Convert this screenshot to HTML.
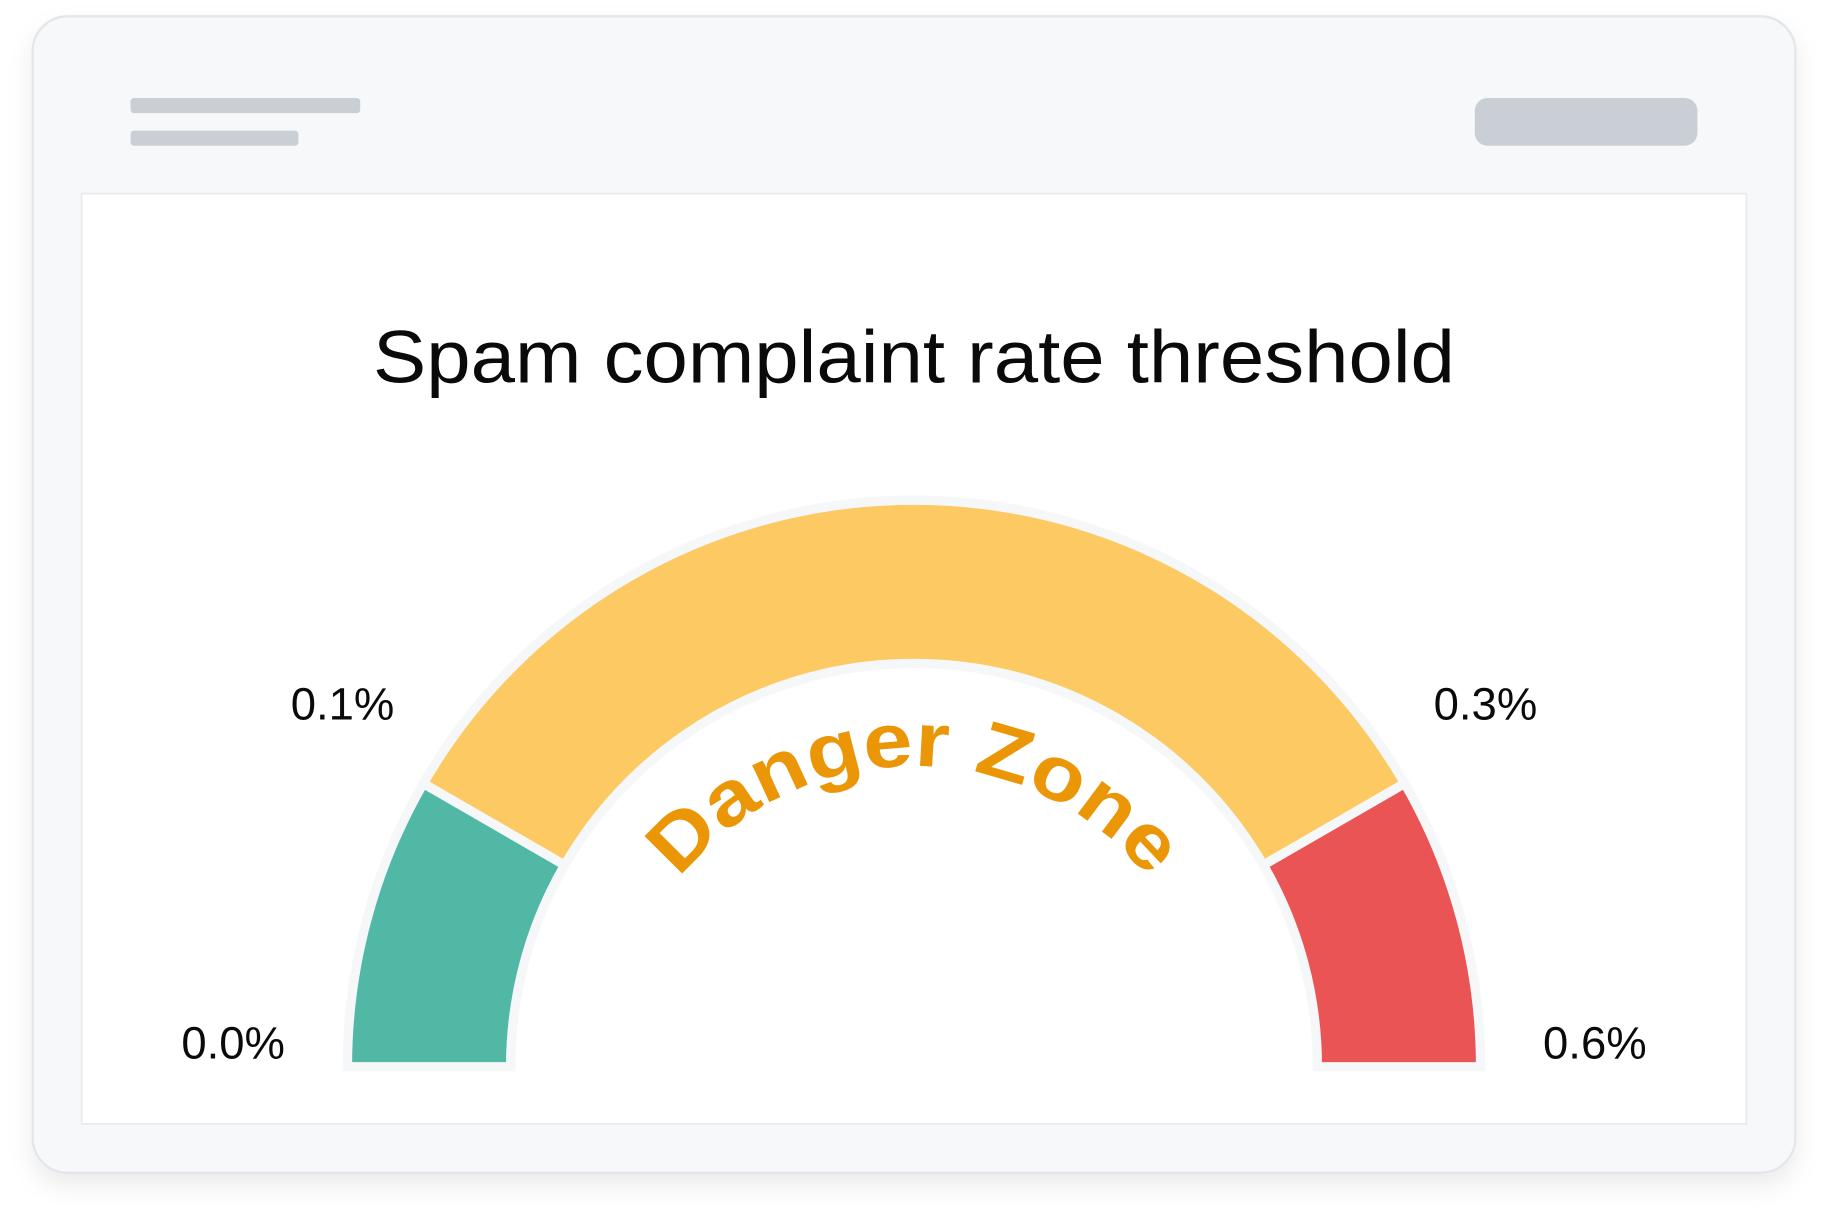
<!DOCTYPE html>
<html><head><meta charset="utf-8">
<style>
html,body{margin:0;padding:0;background:#fff;}
svg{display:block;}
</style></head>
<body>
<svg width="1828" height="1223" viewBox="0 0 1568 1049" xmlns="http://www.w3.org/2000/svg" font-family="Liberation Sans, sans-serif">
  <defs>
    <filter id="sh" x="-10%" y="-10%" width="120%" height="125%">
      <feDropShadow dx="0" dy="10" stdDeviation="10" flood-color="#000" flood-opacity="0.08"/>
    </filter>
  </defs>
  <rect x="28" y="14" width="1512" height="992" rx="30" fill="#F7F8FA" stroke="#E3E6EA" stroke-width="2" filter="url(#sh)"/>
  <rect x="112" y="84" width="197" height="13" rx="3" fill="#C9CFD5"/>
  <rect x="112" y="112" width="144" height="13" rx="3" fill="#C9CFD5"/>
  <rect x="1265" y="84" width="191" height="41" rx="11" fill="#C9CFD5"/>
  <rect x="70" y="166" width="1428" height="798" fill="#FFFFFF" stroke="#E8EBEE" stroke-width="1.5"/>
  <text x="784" y="328" text-anchor="middle" font-size="64" fill="#0A0A0A" textLength="928" lengthAdjust="spacingAndGlyphs" style="font-weight:500">Spam complaint rate threshold</text>
  <g id="gauge"></g>
  <path id="dzPath" d="M 526 915 A 258 258 0 0 1 1042 915" fill="none"/>
  <text font-size="66" font-weight="bold" fill="#EA9606"><textPath href="#dzPath" startOffset="50%" text-anchor="middle" textLength="462" lengthAdjust="spacingAndGlyphs">Danger Zone</textPath></text>
</svg>
<script>
const thresholds = [0.0, 0.1, 0.3, 0.6];
const tickLabels = ["0.0%", "0.1%", "0.3%", "0.6%"];
const segmentColors = ["#52B8A6", "#FDC962", "#EA5455"];
const segmentNames = ["safe-segment", "danger-zone-segment", "critical-segment"];

const cx = 784, cy = 915, rOuter = 486, rInner = 346;
const angleRange = [180, 150, 30, 0];
function angleScale(v) {
  for (let i = 0; i < thresholds.length - 1; i++) {
    const a = thresholds[i], b = thresholds[i + 1];
    if (v <= b || i === thresholds.length - 2) {
      const t = (v - a) / (b - a);
      return angleRange[i] + t * (angleRange[i + 1] - angleRange[i]);
    }
  }
}
function pt(r, deg) {
  const a = deg * Math.PI / 180;
  return [cx + r * Math.cos(a), cy - r * Math.sin(a)];
}
const NS = "http://www.w3.org/2000/svg";
const g = document.getElementById("gauge");
for (let i = 0; i < thresholds.length - 1; i++) {
  const a0 = angleScale(thresholds[i]), a1 = angleScale(thresholds[i + 1]);
  const p0 = pt(rOuter, a0), p1 = pt(rOuter, a1), p2 = pt(rInner, a1), p3 = pt(rInner, a0);
  const large = (a0 - a1) > 180 ? 1 : 0;
  const d = `M${p0[0]},${p0[1]} A${rOuter},${rOuter} 0 ${large} 1 ${p1[0]},${p1[1]} L${p2[0]},${p2[1]} A${rInner},${rInner} 0 ${large} 0 ${p3[0]},${p3[1]} Z`;
  const path = document.createElementNS(NS, "path");
  path.setAttribute("d", d);
  path.setAttribute("fill", segmentColors[i]);
  path.setAttribute("stroke", "#F5F7F9");
  path.setAttribute("stroke-width", "8");
  path.setAttribute("stroke-linejoin", "miter");
  
  
  g.appendChild(path);
}
for (let i = 0; i < thresholds.length; i++) {
  const ang = angleScale(thresholds[i]);
  const rad = ang * Math.PI / 180;
  let x, y;
  if (ang === 180 || ang === 0) {
    x = cx + Math.cos(rad) * 584; y = cy - 7;
  } else {
    const p = pt(rOuter + 10, ang);
    x = p[0] + Math.cos(rad) * 70; y = p[1] - 50;
  }
  const t = document.createElementNS(NS, "text");
  t.setAttribute("x", x);
  t.setAttribute("y", y);
  t.setAttribute("text-anchor", "middle");
  t.setAttribute("font-size", "39");
  t.setAttribute("fill", "#0A0A0A");
  t.textContent = tickLabels[i];
  
  
  g.appendChild(t);
}
</script>
</body></html>
